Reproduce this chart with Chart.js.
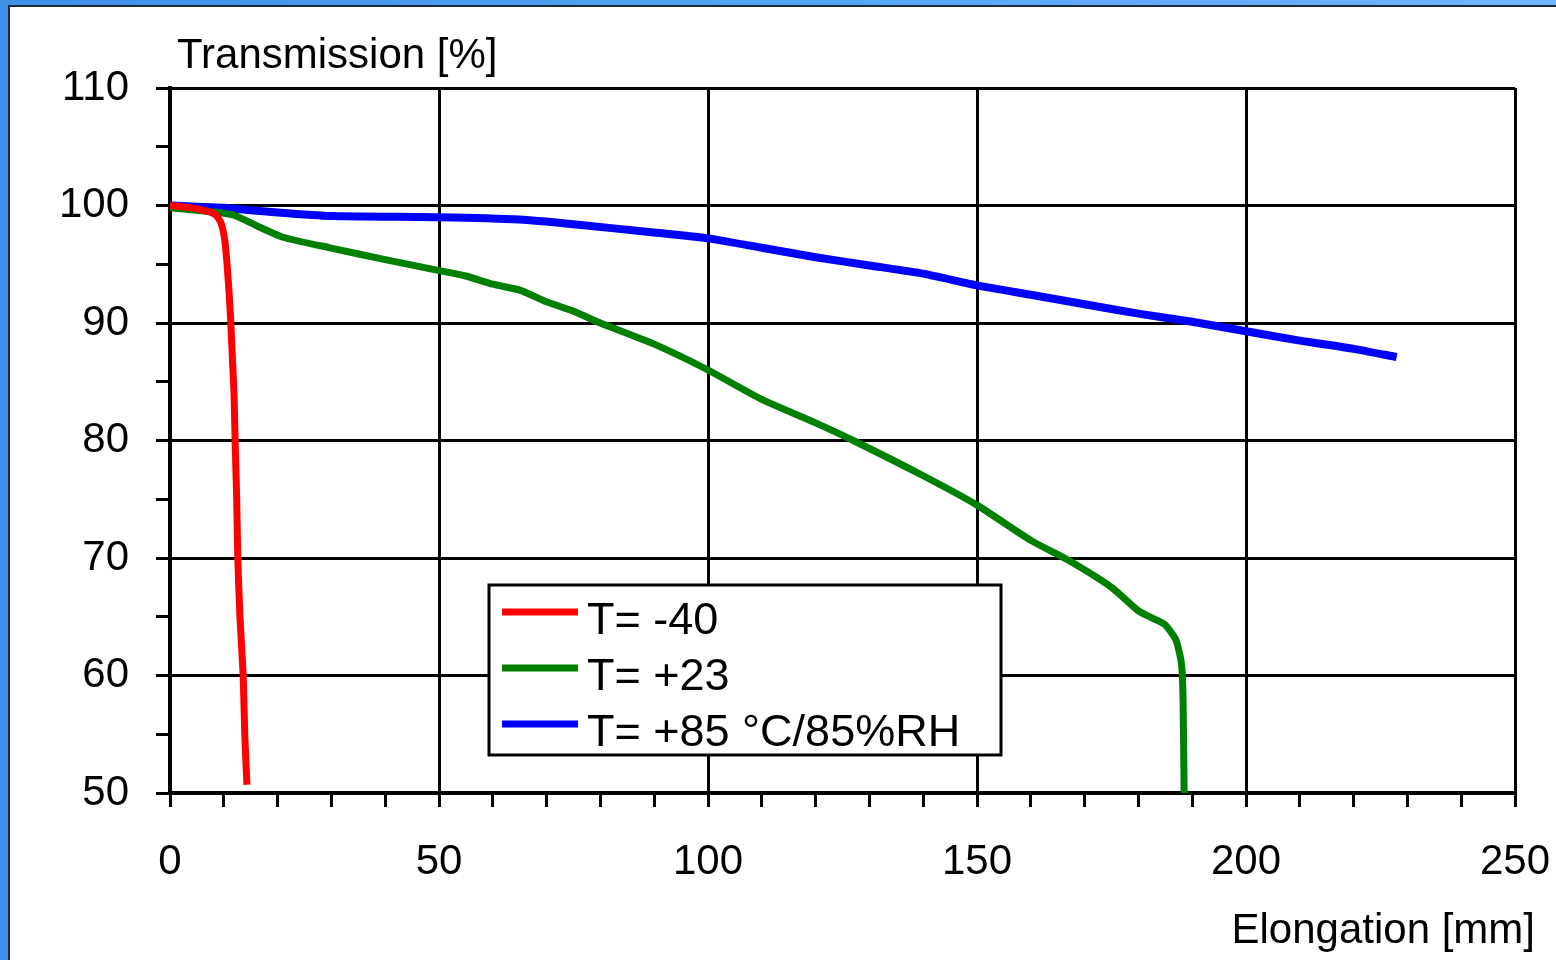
<!DOCTYPE html>
<html>
<head>
<meta charset="utf-8">
<script src="https://cdn.jsdelivr.net/npm/chart.js@4/dist/chart.umd.min.js"></script>
<style>
  html, body { margin: 0; padding: 0; }
  body { width: 1556px; height: 960px; position: relative; overflow: hidden;
         background: linear-gradient(90deg, #3f8fe8 0%, #5aa6f5 60%, #6fb4ff 100%); }
  #inner { position: absolute; left: 8px; top: 5px; right: 0; bottom: 0; background: #fff;
           border-left: 2px solid #1c2a3a; border-top: 2px solid #1c2a3a; }
  #chartCanvas { position: absolute; left: 0; top: 0; }
</style>
</head>
<body>
<div id="inner"></div>
<canvas id="chartCanvas" width="1556" height="960"></canvas>
<script>
// Elongation [mm] / Transmission [%]
const redX   = [0, 4, 7, 8.5, 9.5, 10.2, 10.6, 11.0, 11.3, 11.6, 11.9, 12.1, 12.4, 12.6, 13.0, 13.6, 13.9, 14.3];
const redY   = [100, 99.8, 99.5, 99.2, 98.5, 97.0, 95.0, 92.5, 90, 87, 84, 80, 75, 70, 65, 60, 55, 50.7];

const greenX = [0, 5, 11.7, 16, 21, 29.7, 40, 49.6, 55, 60, 65, 70, 75, 80, 90, 100, 110, 120, 127, 140, 150, 160, 167, 175, 180, 183, 185, 187, 188, 188.3, 188.5];
const greenY = [99.8, 99.6, 99.2, 98.3, 97.3, 96.4, 95.4, 94.5, 94.0, 93.3, 92.8, 91.8, 91.0, 90.0, 88.2, 86.0, 83.5, 81.5, 80.0, 77.0, 74.5, 71.5, 69.8, 67.5, 65.5, 64.8, 64.3, 63.0, 61.0, 58.0, 50.0];

const blueX  = [0, 5, 10, 20, 30, 50, 65, 75, 90, 100, 110, 120, 130, 140, 150, 160, 170, 180, 190, 200, 210, 220, 228];
const blueY  = [100, 99.9, 99.8, 99.4, 99.1, 99.0, 98.8, 98.4, 97.7, 97.2, 96.4, 95.6, 94.9, 94.2, 93.2, 92.4, 91.6, 90.8, 90.1, 89.3, 88.5, 87.8, 87.1];

const seriesLabels = ['T= -40', 'T= +23', 'T= +85 °C/85%RH'];
const seriesColors = ['#ff0000', '#008000', '#0000ff'];
const seriesWidths = [7, 7, 8];

const xMin = 0, xMax = 250, xStep = 10, xLabelStep = 50;
const yMin = 50, yMax = 110, yStep = 5, yLabelStep = 10;

const fontFamily = '"Liberation Sans", Arial, sans-serif';

function toPoints(xs, ys) {
    return xs.map((x, i) => ({ x: x, y: ys[i] }));
}

// Títulos de ejes y leyenda con marco
const decoPlugin = {
    id: 'deco',
    afterDraw(chart) {
        const ctx = chart.ctx;
        const a = chart.chartArea;
        ctx.save();
        ctx.fillStyle = '#000';
        ctx.font = '42px ' + fontFamily;
        ctx.textBaseline = 'alphabetic';
        ctx.textAlign = 'left';
        ctx.fillText('Transmission [%]', a.left + 7, a.top - 20);
        ctx.textAlign = 'right';
        ctx.fillText('Elongation [mm]', a.right + 20, a.bottom + 150);

        // leyenda
        const bx = a.left + 319, by = a.top + 497, bw = 512, bh = 170;
        ctx.fillStyle = '#fff';
        ctx.fillRect(bx, by, bw, bh);
        ctx.strokeStyle = '#000';
        ctx.lineWidth = 3;
        ctx.strokeRect(bx, by, bw, bh);
        ctx.font = '45px ' + fontFamily;
        ctx.textAlign = 'left';
        ctx.textBaseline = 'middle';
        chart.data.datasets.forEach((ds, i) => {
            const cy = by + 27 + i * 56;
            ctx.strokeStyle = ds.borderColor;
            ctx.lineWidth = 7;
            ctx.beginPath();
            ctx.moveTo(bx + 13, cy);
            ctx.lineTo(bx + 89, cy);
            ctx.stroke();
            ctx.fillStyle = '#000';
            ctx.fillText(ds.label, bx + 98, cy + 10);
        });
        ctx.restore();
    }
};

const datasets = [
    toPoints(redX, redY),
    toPoints(greenX, greenY),
    toPoints(blueX, blueY)
].map((pts, i) => ({
    label: seriesLabels[i],
    data: pts,
    borderColor: seriesColors[i],
    backgroundColor: seriesColors[i],
    borderWidth: seriesWidths[i],
    showLine: true,
    pointRadius: 0,
    tension: 0.2,
    fill: false
}));

new Chart(document.getElementById('chartCanvas').getContext('2d'), {
    type: 'scatter',
    data: { datasets: datasets },
    options: {
        responsive: false,
        animation: false,
        layout: { padding: { top: 88, right: 41, left: 0, bottom: 0 } },
        plugins: {
            legend: { display: false },
            tooltip: { enabled: false }
        },
        scales: {
            x: {
                type: 'linear',
                min: xMin, max: xMax,
                afterFit: s => { s.height = 167; s.paddingLeft = 0; s.paddingRight = 0; },
                border: { color: '#000', width: 4 },
                grid: {
                    color: c => (c.tick && c.tick.value % xLabelStep === 0) ? '#000' : 'rgba(0,0,0,0)',
                    lineWidth: 3,
                    tickColor: '#000',
                    tickWidth: 3,
                    tickLength: 14
                },
                ticks: {
                    stepSize: xStep,
                    autoSkip: false,
                    maxRotation: 0,
                    color: '#000',
                    padding: 30,
                    font: { family: fontFamily, size: 42 },
                    callback: v => (v % xLabelStep === 0 ? String(v) : '')
                }
            },
            y: {
                min: yMin, max: yMax,
                afterFit: s => { s.width = 170; s.paddingTop = 0; s.paddingBottom = 0; },
                border: { color: '#000', width: 4 },
                grid: {
                    color: c => (c.tick && c.tick.value % yLabelStep === 0) ? '#000' : 'rgba(0,0,0,0)',
                    lineWidth: 3,
                    tickColor: '#000',
                    tickWidth: 3,
                    tickLength: 14
                },
                ticks: {
                    stepSize: yStep,
                    autoSkip: false,
                    color: '#000',
                    padding: 27,
                    font: { family: fontFamily, size: 42 },
                    callback: v => (v % yLabelStep === 0 ? String(v) : '')
                }
            }
        }
    },
    plugins: [decoPlugin]
});
</script>
</body>
</html>
